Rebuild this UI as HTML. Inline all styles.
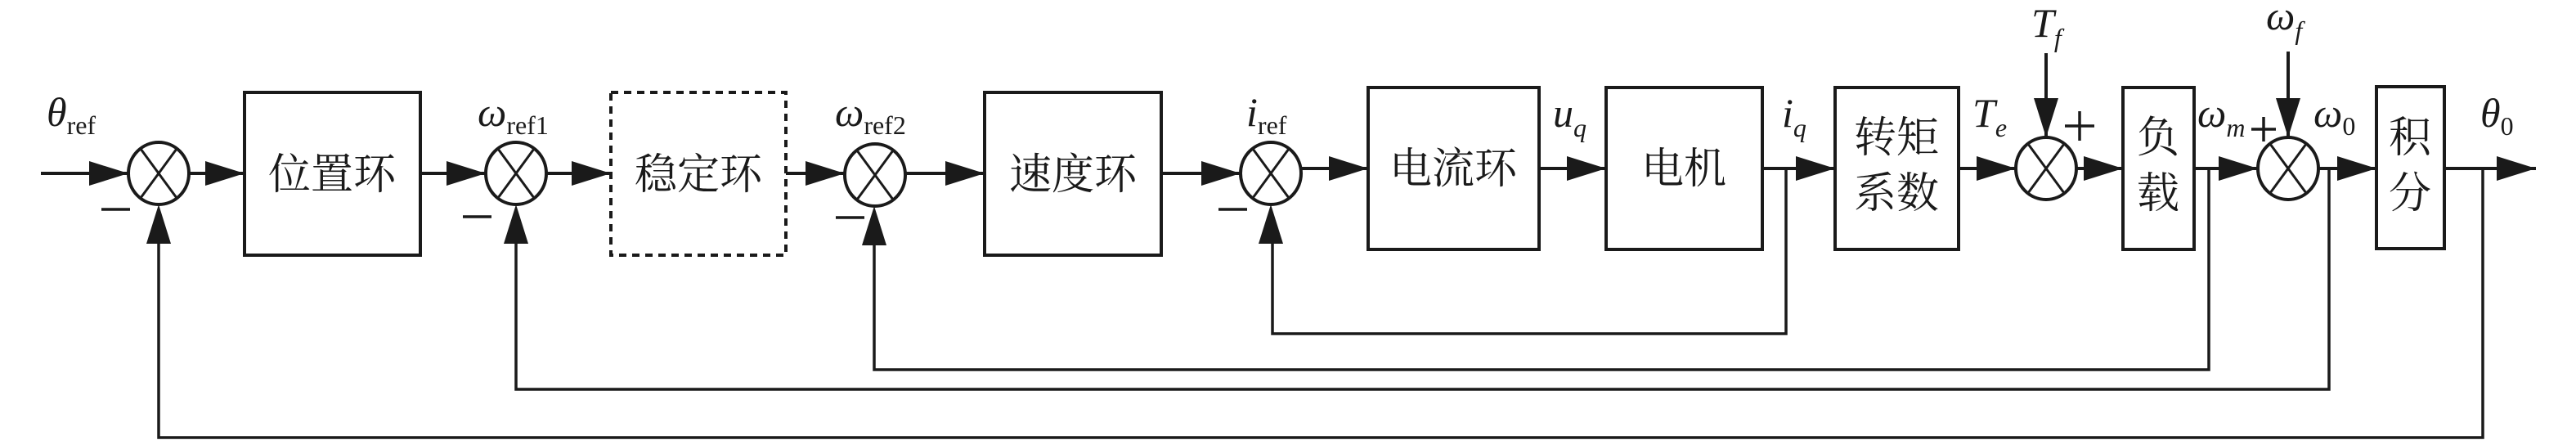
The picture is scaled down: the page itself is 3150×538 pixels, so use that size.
<!DOCTYPE html>
<html><head><meta charset="utf-8"><style>
html,body{margin:0;padding:0;background:#fff;}
svg{display:block;}
.cn{font-family:"Liberation Serif","Noto Serif CJK SC",serif;font-size:52px;fill:#1a1a1a;}
.it{font-family:"Liberation Serif",serif;font-style:italic;font-size:50px;fill:#1a1a1a;}
.sb{font-family:"Liberation Serif",serif;font-size:32px;fill:#1a1a1a;}
.si{font-family:"Liberation Serif",serif;font-style:italic;font-size:32px;fill:#1a1a1a;}
</style></head><body>
<svg width="3150" height="538" viewBox="0 0 3150 538" xmlns="http://www.w3.org/2000/svg">
<defs>
<g id="sum"><ellipse cx="0" cy="0" rx="37" ry="38" fill="#fff" stroke="#1a1a1a" stroke-width="4"/>
<line x1="-22" y1="-30" x2="22" y2="30" stroke="#1a1a1a" stroke-width="3"/>
<line x1="22" y1="-30" x2="-22" y2="30" stroke="#1a1a1a" stroke-width="3"/></g>
<path id="ar" d="M0,0 L-48,-15 L-48,15 Z" fill="#1a1a1a"/>
<path id="au" d="M0,0 L-15,48 L15,48 Z" fill="#1a1a1a"/>
<path id="ad" d="M0,0 L-15,-48 L15,-48 Z" fill="#1a1a1a"/>
</defs>
<g stroke="#1a1a1a" stroke-width="4" fill="none">
<!-- main line left -->
<line x1="50" y1="212" x2="157" y2="212"/>
<line x1="231" y1="212" x2="299" y2="212"/>
<line x1="514" y1="212" x2="594" y2="212"/>
<line x1="668" y1="212" x2="747" y2="212"/>
<line x1="961" y1="212" x2="1033" y2="212"/>
<line x1="1107" y1="212" x2="1204" y2="212"/>
<line x1="1420" y1="212" x2="1517" y2="212"/>
<line x1="1591" y1="206" x2="1673" y2="206"/>
<line x1="1882" y1="206" x2="1964" y2="206"/>
<line x1="2155" y1="206" x2="2244" y2="206"/>
<line x1="2395" y1="206" x2="2465" y2="206"/>
<line x1="2539" y1="206" x2="2596" y2="206"/>
<line x1="2683" y1="206" x2="2761" y2="206"/>
<line x1="2835" y1="206" x2="2906" y2="206"/>
<line x1="2989" y1="206" x2="3101" y2="206"/>
<!-- disturbances -->
<line x1="2502" y1="65" x2="2502" y2="168"/>
<line x1="2798" y1="63" x2="2798" y2="168"/>
</g>
<g stroke="#1a1a1a" stroke-width="3.5" fill="none">
<polyline points="2184,206 2184,408 1556,408 1556,290"/>
<polyline points="2701,206 2701,452 1069,452 1069,290"/>
<polyline points="2848,206 2848,476 631,476 631,290"/>
<polyline points="3036,206 3036,535 194,535 194,290"/>
</g>
<!-- boxes -->
<g stroke="#1a1a1a" stroke-width="4" fill="#fff">
<rect x="299" y="113" width="215" height="199"/>
<rect x="747" y="113" width="214" height="199" stroke-dasharray="9,7"/>
<rect x="1204" y="113" width="216" height="199"/>
<rect x="1673" y="107" width="209" height="198"/>
<rect x="1964" y="107" width="191" height="198"/>
<rect x="2244" y="107" width="151" height="198"/>
<rect x="2596" y="107" width="87" height="198"/>
<rect x="2906" y="106" width="83" height="198"/>
</g>
<!-- sums -->
<use href="#sum" x="194" y="212"/>
<use href="#sum" x="631" y="212"/>
<use href="#sum" x="1070" y="214"/>
<use href="#sum" x="1554" y="212"/>
<use href="#sum" x="2502" y="206"/>
<use href="#sum" x="2798" y="206"/>
<!-- arrows -->
<use href="#ar" x="157" y="212"/><use href="#ar" x="299" y="212"/>
<use href="#ar" x="594" y="212"/><use href="#ar" x="747" y="212"/>
<use href="#ar" x="1033" y="212"/><use href="#ar" x="1204" y="212"/>
<use href="#ar" x="1517" y="212"/><use href="#ar" x="1673" y="206"/>
<use href="#ar" x="1964" y="206"/><use href="#ar" x="2244" y="206"/>
<use href="#ar" x="2465" y="206"/><use href="#ar" x="2596" y="206"/>
<use href="#ar" x="2761" y="206"/><use href="#ar" x="2906" y="206"/>
<use href="#ar" x="3101" y="206"/>
<use href="#au" x="194" y="250"/><use href="#au" x="631" y="250"/>
<use href="#au" x="1069" y="252"/><use href="#au" x="1554" y="250"/>
<use href="#ad" x="2502" y="168"/><use href="#ad" x="2798" y="168"/>
<!-- minus signs -->
<g stroke="#1a1a1a" stroke-width="3.5">
<line x1="124" y1="256" x2="159" y2="256"/>
<line x1="566" y1="265" x2="601" y2="265"/>
<line x1="1022" y1="266" x2="1057" y2="266"/>
<line x1="1490" y1="256" x2="1525" y2="256"/>
<line x1="2525" y1="154" x2="2561" y2="154"/><line x1="2543" y1="136" x2="2543" y2="172"/>
<line x1="2753" y1="158" x2="2783" y2="158"/><line x1="2768" y1="143" x2="2768" y2="173"/>
</g>
<!-- block text -->
<text class="cn" x="406" y="231" text-anchor="middle">位置环</text>
<text class="cn" x="854" y="231" text-anchor="middle">稳定环</text>
<text class="cn" x="1312" y="231" text-anchor="middle">速度环</text>
<text class="cn" x="1777" y="224" text-anchor="middle">电流环</text>
<text class="cn" x="2059" y="224" text-anchor="middle">电机</text>
<text class="cn" x="2319" y="186" text-anchor="middle">转矩</text>
<text class="cn" x="2319" y="254" text-anchor="middle">系数</text>
<text class="cn" x="2639" y="186" text-anchor="middle">负</text>
<text class="cn" x="2639" y="254" text-anchor="middle">载</text>
<text class="cn" x="2947" y="186" text-anchor="middle">积</text>
<text class="cn" x="2947" y="254" text-anchor="middle">分</text>
<!-- signal labels -->
<text x="57" y="154"><tspan class="it">θ</tspan><tspan class="sb" dy="10">ref</tspan></text>
<text x="584" y="154"><tspan class="it">ω</tspan><tspan class="sb" dy="10">ref1</tspan></text>
<text x="1021" y="154"><tspan class="it">ω</tspan><tspan class="sb" dy="10">ref2</tspan></text>
<text x="1524" y="154"><tspan class="it">i</tspan><tspan class="sb" dy="10">ref</tspan></text>
<text x="1899" y="155"><tspan class="it">u</tspan><tspan class="si" dy="12">q</tspan></text>
<text x="2179" y="155"><tspan class="it">i</tspan><tspan class="si" dy="12">q</tspan></text>
<text x="2412" y="155"><tspan class="it">T</tspan><tspan class="si" dy="12">e</tspan></text>
<text x="2484" y="45"><tspan class="it">T</tspan><tspan class="si" dy="12">f</tspan></text>
<text x="2771" y="36"><tspan class="it">ω</tspan><tspan class="si" dy="12">f</tspan></text>
<text x="2687" y="155"><tspan class="it">ω</tspan><tspan class="si" dy="12">m</tspan></text>
<text x="2829" y="155"><tspan class="it">ω</tspan><tspan class="sb" dy="10">0</tspan></text>
<text x="3033" y="155"><tspan class="it">θ</tspan><tspan class="sb" dy="10">0</tspan></text>
</svg>
</body></html>
